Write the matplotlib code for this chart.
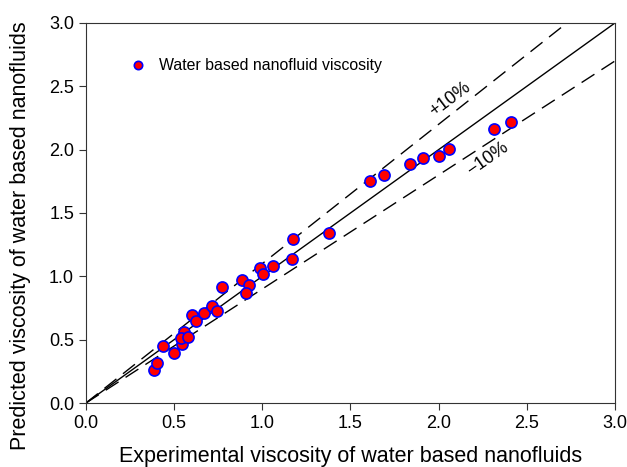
import numpy as np
import matplotlib.pyplot as plt

plt.rcParams["font.family"] = ["Liberation Sans", "DejaVu Sans"]

# experimental vs predicted viscosity
exp_visc = [0.386, 0.405, 0.435, 0.500, 0.543, 0.558, 0.539, 0.577, 0.601, 0.624,
            0.669, 0.715, 0.743, 0.770, 0.887, 0.926, 0.908, 0.989, 1.004, 1.059,
            1.172, 1.170, 1.378, 1.609, 1.692, 1.836, 1.911, 2.004, 2.061, 2.314,
            2.411]
pred_visc = [0.260, 0.313, 0.450, 0.397, 0.466, 0.563, 0.510, 0.518, 0.695, 0.650,
             0.713, 0.766, 0.729, 0.918, 0.971, 0.931, 0.871, 1.063, 1.016, 1.081,
             1.292, 1.134, 1.339, 1.752, 1.800, 1.884, 1.936, 1.952, 2.005, 2.160,
             2.215]
band = 0.10

fig = plt.figure(figsize=(6.27, 4.67), dpi=100)
ax = fig.add_axes([0.137, 0.137, 0.844, 0.814])

xs = np.array([0.0, 3.0])
ax.plot(xs, xs, color="black", lw=1.0, zorder=2)
ax.plot(xs, xs * (1 + band), color="black", lw=1.0, dashes=(11, 6), zorder=2)
ax.plot(xs, xs * (1 - band), color="black", lw=1.0, dashes=(11, 6), zorder=2)

ax.plot(exp_visc, pred_visc, "o", ms=8, mfc="red", mec="blue", mew=1.2,
        ls="none", zorder=3, label="Water based nanofluid viscosity")

ax.text(2.065, 2.40, "+10%", rotation=37, fontsize=13, ha="center", va="center")
ax.text(2.28, 1.93, "\u221210%", rotation=35, fontsize=13, ha="center", va="center")

ax.set_xlim(0, 3)
ax.set_ylim(0, 3)
ax.set_xticks(np.arange(0, 3.01, 0.5))
ax.set_yticks(np.arange(0, 3.01, 0.5))
for s in ax.spines.values():
    s.set_color("#333333")
ax.tick_params(direction="out", length=5, labelsize=13, top=False, right=False,
               color="#333333")
ax.set_xlabel("Experimental viscosity of water based nanofluids", fontsize=15.5)
ax.set_ylabel("Predicted viscosity of water based nanofluids", fontsize=15.5)
ax.xaxis.set_label_coords(0.5, -0.112)
ax.yaxis.set_label_coords(-0.103, 0.44)

ax.legend(loc="upper left", bbox_to_anchor=(0.042, 0.944), frameon=False,
          fontsize=11.4, handletextpad=0.3, markerscale=0.75)

fig.savefig("out.png", dpi=100)
